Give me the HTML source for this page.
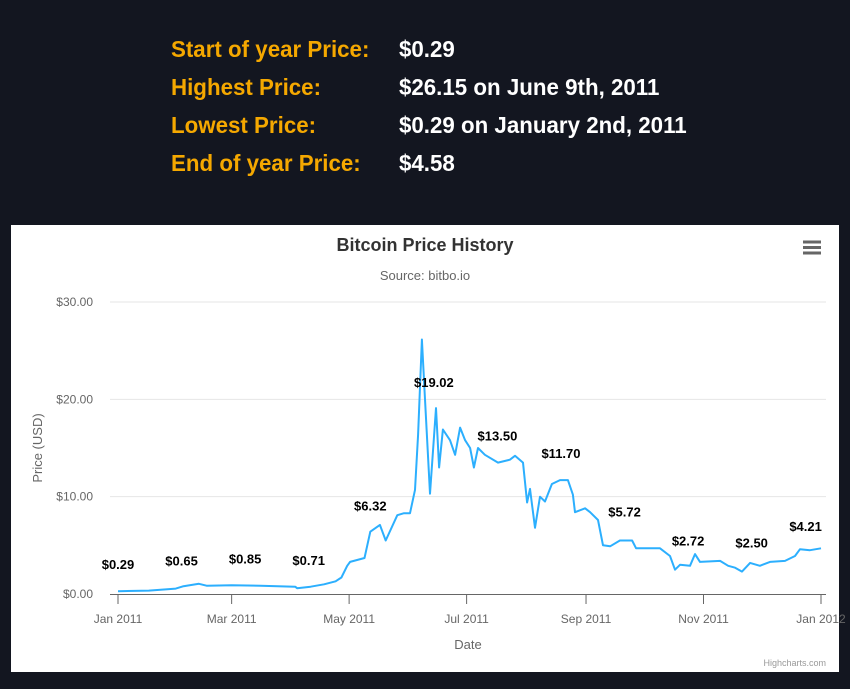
<!DOCTYPE html>
<html><head><meta charset="utf-8">
<style>
body{margin:0;width:850px;height:689px;background:#131620;overflow:hidden;font-family:"Liberation Sans",sans-serif;position:relative}
.row{position:absolute;left:171px;font-family:"Liberation Sans",sans-serif;font-weight:bold;font-size:23px;transform:scaleX(0.97);transform-origin:0 0}
.lab{color:#f5a800;position:absolute;left:0;white-space:nowrap}
.val{color:#fff;position:absolute;left:235px;white-space:nowrap}
#panel{position:absolute;left:11px;top:225px;width:828px;height:447px;background:#fff}
</style></head><body>
<div class="row" style="top:36px"><span class="lab">Start of year Price:</span><span class="val">$0.29</span></div>
<div class="row" style="top:74px"><span class="lab">Highest Price:</span><span class="val">$26.15 on June 9th, 2011</span></div>
<div class="row" style="top:112px"><span class="lab">Lowest Price:</span><span class="val">$0.29 on January 2nd, 2011</span></div>
<div class="row" style="top:150px"><span class="lab">End of year Price:</span><span class="val">$4.58</span></div>
<div id="panel"></div>
<svg id="chart" width="850" height="689" style="position:absolute;left:0;top:0"></svg>
<script>
const days=[0,16,30,34,42,46,59,74,92,93,100,107,113,116,119,120.5,128,131,136,139,145,148.5,151.6,154.2,155.8,157.8,159.4,162,165.1,166.7,168.7,172.4,175,177.6,180.2,182.8,184.8,186.9,190.5,197.3,203.5,206.1,210.3,212.4,213.9,216.5,219.1,221.7,225.3,229.5,233.6,236.2,237.3,242.5,245.1,249.2,251.8,255.5,260.6,266.9,269,281.4,286.6,289.2,291.8,297,299.6,302.2,312.6,316.8,320.4,324,328.2,333.3,338.5,346.3,351.5,354.1,359.3,365];
const prices=[0.29,0.35,0.55,0.8,1.05,0.85,0.9,0.85,0.75,0.6,0.75,1.0,1.3,1.7,2.9,3.3,3.7,6.4,7.1,5.5,8.1,8.3,8.3,10.7,16.4,26.15,20,10.3,19.1,13,16.9,15.8,14.3,17.1,15.8,15,13,15,14.3,13.5,13.8,14.2,13.5,9.4,10.8,6.8,10,9.5,11.3,11.7,11.7,10.2,8.4,8.8,8.4,7.6,5,4.9,5.5,5.5,4.7,4.7,3.9,2.5,3.0,2.9,4.1,3.3,3.4,2.9,2.7,2.3,3.2,2.9,3.3,3.4,3.9,4.6,4.5,4.7];
const labelDays=[0,33,66,99,131,164,197,230,263,296,329,357];
const labelValues=[0.29,0.65,0.85,0.71,6.32,19.02,13.50,11.70,5.72,2.72,2.50,4.21];
const yTicks=[0,10,20,30];
const yTickLabels=["$0.00","$10.00","$20.00","$30.00"];
const xTickDays=[0,59,120,181,243,304,365];
const xTickLabels=["Jan 2011","Mar 2011","May 2011","Jul 2011","Sep 2011","Nov 2011","Jan 2012"];
const X=d=>118+d*(821-118)/365;
const Y=v=>594-v*(594-302)/30;
const svg=document.getElementById('chart');const NS='http://www.w3.org/2000/svg';
function mk(tag,attrs,text){const e=document.createElementNS(NS,tag);for(const k in attrs)e.setAttribute(k,attrs[k]);if(text!==undefined)e.textContent=text;svg.appendChild(e);return e;}
yTicks.forEach((t,i)=>{
 if(t>0){const g=mk('line',{x1:110,x2:826,y1:Y(t),y2:Y(t),stroke:'#e6e6e6','stroke-width':1});
 
 }
 const l=mk('text',{x:93,y:Y(t)+4,'text-anchor':'end','font-size':12,fill:'#666'},yTickLabels[i]);
 
 
});
const ax=mk('line',{x1:110,x2:826,y1:594.5,y2:594.5,stroke:'#666','stroke-width':1});


xTickDays.forEach((d,i)=>{
 const t=mk('line',{x1:X(d),x2:X(d),y1:594,y2:604,stroke:'#666','stroke-width':1});
 
 
 const l=mk('text',{x:X(d),y:623,'text-anchor':'middle','font-size':12,fill:'#666'},xTickLabels[i]);
 
 
});
const pts=days.map((d,i)=>X(d).toFixed(1)+','+Y(prices[i]).toFixed(1)).join(' ');
const line=mk('polyline',{points:pts,fill:'none',stroke:'#2caffe','stroke-width':2,'stroke-linejoin':'round'});


labelDays.forEach((d,i)=>{
 const l=mk('text',{x:X(d),y:Y(labelValues[i])-22,'text-anchor':'middle','font-size':13,'font-weight':'bold',fill:'#000'},'$'+labelValues[i].toFixed(2));
 
 
});
const title=mk('text',{x:425,y:251,'text-anchor':'middle','font-size':18,'font-weight':'bold',fill:'#333'},'Bitcoin Price History');


const sub=mk('text',{x:425,y:280,'text-anchor':'middle','font-size':13,fill:'#666'},'Source: bitbo.io');


const yt=mk('text',{x:0,y:0,'text-anchor':'middle','font-size':13,fill:'#666',transform:'translate(42,448) rotate(-90)'},'Price (USD)');


const xt=mk('text',{x:468,y:649,'text-anchor':'middle','font-size':13,fill:'#666'},'Date');


const menu=mk('path',{d:'M803 242H821M803 247.5H821M803 253H821',stroke:'#666','stroke-width':3});


const cr=mk('text',{x:826,y:666,'text-anchor':'end','font-size':9,fill:'#999'},'Highcharts.com');


</script>
</body></html>
